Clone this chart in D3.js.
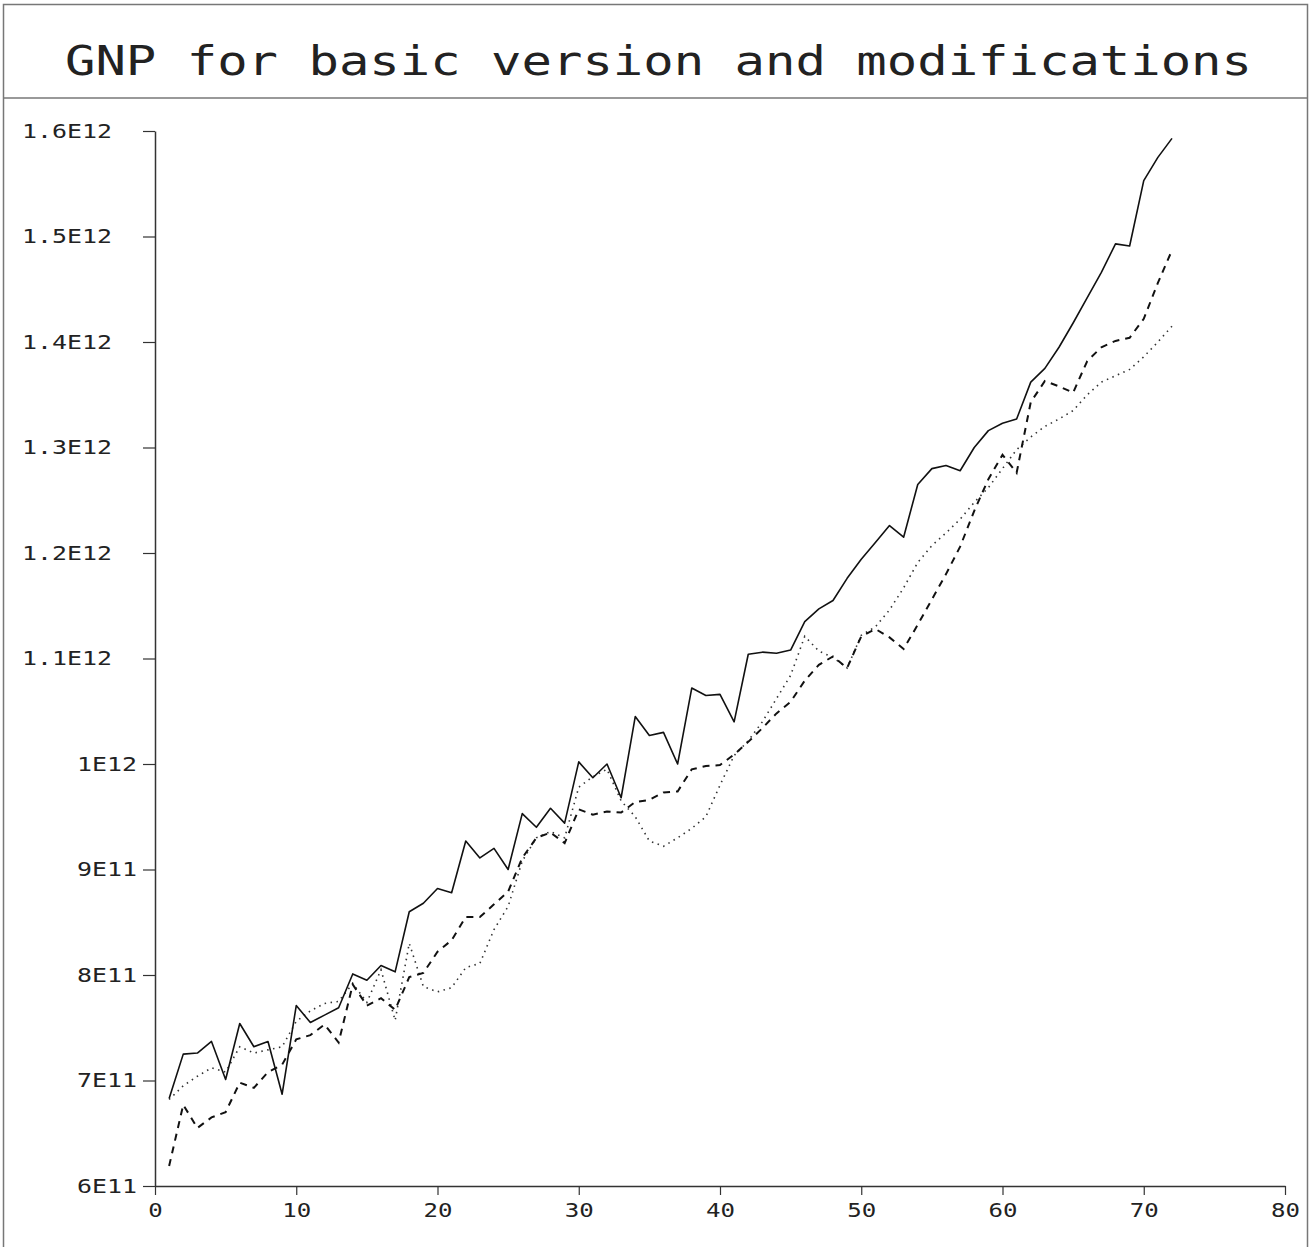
<!DOCTYPE html>
<html>
<head>
<meta charset="utf-8">
<script src="https://cdn.jsdelivr.net/npm/d3@7"></script>
<style>
  body { margin: 0; background: #fff; }
  text { font-family: 'DejaVu Sans Mono', monospace; fill: #222; }
</style>
</head>
<body>
<div class="chart-container"></div>
<script>
// values in units of 1E11, one per period
const periods = [1,2,3,4,5,6,7,8,9,10,11,12,13,14,15,16,17,18,19,20,21,22,23,24,
  25,26,27,28,29,30,31,32,33,34,35,36,37,38,39,40,41,42,43,44,45,46,47,48,
  49,50,51,52,53,54,55,56,57,58,59,60,61,62,63,64,65,66,67,68,69,70,71,72];

const basicGnp = [6.83,7.25,7.26,7.37,7.01,7.54,7.32,7.37,6.87,7.71,7.55,7.62,
  7.69,8.01,7.95,8.09,8.03,8.60,8.68,8.82,8.78,9.27,9.11,9.20,
  9.00,9.53,9.40,9.58,9.44,10.02,9.87,10.00,9.68,10.45,10.27,10.30,
  10.00,10.72,10.65,10.66,10.40,11.04,11.06,11.05,11.08,11.35,11.47,11.55,
  11.76,11.94,12.10,12.26,12.15,12.65,12.80,12.83,12.78,13.00,13.16,13.23,
  13.27,13.62,13.75,13.95,14.18,14.42,14.66,14.93,14.91,15.53,15.75,15.93];

const modDashed = [6.19,6.77,6.55,6.65,6.70,6.98,6.93,7.08,7.15,7.39,7.43,7.53,
  7.36,7.91,7.71,7.78,7.67,7.98,8.02,8.22,8.33,8.55,8.55,8.67,
  8.79,9.11,9.30,9.35,9.25,9.57,9.52,9.55,9.54,9.64,9.66,9.73,
  9.74,9.95,9.98,9.99,10.09,10.21,10.34,10.48,10.59,10.79,10.94,11.02,
  10.91,11.21,11.28,11.20,11.09,11.32,11.56,11.80,12.06,12.40,12.70,12.93,
  12.76,13.43,13.63,13.58,13.52,13.82,13.95,14.01,14.04,14.22,14.56,14.87];

const modDotted = [6.82,6.95,7.04,7.12,7.08,7.32,7.26,7.29,7.32,7.56,7.66,7.73,
  7.75,7.92,7.74,8.05,7.57,8.30,7.89,7.84,7.88,8.07,8.11,8.43,
  8.65,9.08,9.30,9.36,9.30,9.78,9.88,9.95,9.65,9.50,9.27,9.22,
  9.30,9.39,9.50,9.80,10.08,10.22,10.40,10.62,10.84,11.21,11.07,11.01,
  10.91,11.22,11.30,11.46,11.67,11.91,12.07,12.19,12.32,12.48,12.62,12.80,
  12.98,13.10,13.20,13.27,13.35,13.50,13.62,13.68,13.74,13.86,14.00,14.15];

const yTicks = [6,7,8,9,10,11,12,13,14,15,16];
const yLabels = ['6E11','7E11','8E11','9E11','1E12','1.1E12','1.2E12','1.3E12','1.4E12','1.5E12','1.6E12'];
const xTicks = [0,10,20,30,40,50,60,70,80];
const xLabels = ['0','10','20','30','40','50','60','70','80'];

const titleText = 'GNP for basic version and modifications';

const width = 1311;
const height = 1247;
const margin = { top: 131, right: 26, bottom: 61, left: 155 };
const plotWidth = width - margin.left - margin.right;
const plotHeight = height - margin.top - margin.bottom;

const svg = d3.select('.chart-container')
  .append('svg')
  .attr('width', width)
  .attr('height', height);

// frame and title box
svg.append('rect')
  .attr('x', 3.5).attr('y', 4.5)
  .attr('width', 1304).attr('height', 1260)
  .attr('fill', 'none')
  .attr('stroke', '#777')
  .attr('stroke-width', 1.5);

svg.append('line')
  .attr('x1', 3.5).attr('x2', 1307.5)
  .attr('y1', 98).attr('y2', 98)
  .attr('stroke', '#777')
  .attr('stroke-width', 1.5);

svg.append('text')
  .attr('x', 65)
  .attr('y', 75)
  .attr('textLength', 1187)
  .attr('lengthAdjust', 'spacingAndGlyphs')
  .style('font-size', '40px')
  .text(titleText);

const g = svg.append('g')
  .attr('transform', `translate(${margin.left}, ${margin.top})`);

// scales
const xScale = d3.scaleLinear()
  .domain([0, 80])
  .range([0, plotWidth]);

const yScale = d3.scaleLinear()
  .domain([6, 16])
  .range([plotHeight, 0]);

// axes
const xAxis = d3.axisBottom(xScale)
  .tickValues(xTicks)
  .tickFormat((d, i) => xLabels[i])
  .tickSize(9)
  .tickSizeOuter(0)
  .tickPadding(9);

const yAxis = d3.axisLeft(yScale)
  .tickValues(yTicks)
  .tickFormat((d, i) => yLabels[i])
  .tickSize(12)
  .tickSizeOuter(0)
  .tickPadding(6);

const xg = g.append('g')
  .attr('transform', `translate(0, ${plotHeight})`)
  .call(xAxis);

const yg = g.append('g')
  .call(yAxis);

[xg, yg].forEach(ax => {
  ax.select('.domain').attr('stroke', '#333').attr('stroke-width', 1.5);
  ax.selectAll('.tick line').attr('stroke', '#333').attr('stroke-width', 1.2);
  ax.selectAll('text')
    .style('font-family', "'DejaVu Sans Mono', monospace")
    .style('font-size', '19px')
    .attr('fill', '#222');
});

xg.selectAll('text')
  .attr('textLength', d => xLabels[xTicks.indexOf(d)].length * 14.5)
  .attr('lengthAdjust', 'spacingAndGlyphs');

// labels with a decimal point sit further left, as in the plot
yg.selectAll('text')
  .attr('x', d => yLabels[yTicks.indexOf(d)].includes('.') ? -43 : -18)
  .attr('textLength', d => yLabels[yTicks.indexOf(d)].length * 15)
  .attr('lengthAdjust', 'spacingAndGlyphs');

// series
const lineGen = vals => d3.line()
  .x((d, i) => xScale(periods[i]))
  .y(d => yScale(d))(vals);

g.append('path')
  .attr('d', lineGen(modDotted))
  .attr('fill', 'none')
  .attr('stroke', '#333')
  .attr('stroke-width', 1.6)
  .attr('stroke-dasharray', '1.5,4.5');

g.append('path')
  .attr('d', lineGen(modDashed))
  .attr('fill', 'none')
  .attr('stroke', '#111')
  .attr('stroke-width', 2)
  .attr('stroke-dasharray', '7,6');

g.append('path')
  .attr('d', lineGen(basicGnp))
  .attr('fill', 'none')
  .attr('stroke', '#111')
  .attr('stroke-width', 1.6)
  .attr('stroke-linejoin', 'round');
</script>
</body>
</html>
